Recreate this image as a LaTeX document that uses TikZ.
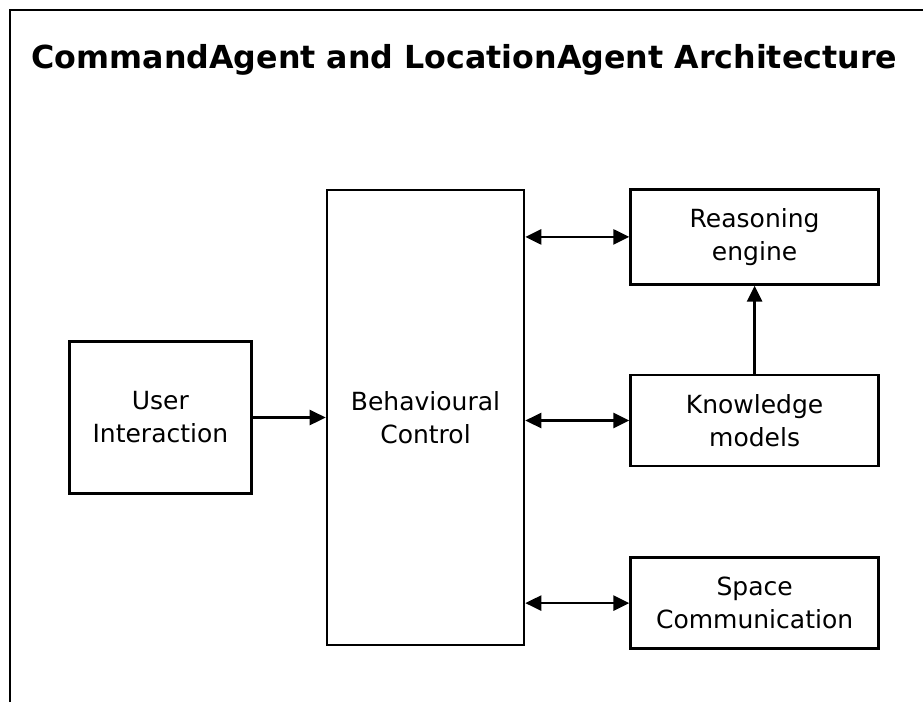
\documentclass[tikz,border=0pt]{standalone}
\usepackage{fontspec}
\setmainfont{DejaVu Sans}
\usetikzlibrary{positioning, arrows.meta}

\begin{document}
\begin{tikzpicture}[x=1pt,y=1pt,
    block/.style={shape=rectangle,draw,line width=2.6pt,align=center,inner sep=0pt,font=\fontsize{25}{33}\selectfont},
    link/.style={line width=2.6pt},
    tip/.style={-{Triangle[length=16pt,width=15pt]}},
    twotips/.style={{Triangle[length=16pt,width=15pt]}-{Triangle[length=16pt,width=15pt]}},]
    \useasboundingbox (0,0) rectangle (923,-702);
    % frame, only its left and top edges are in the picture
    \draw[line width=2.8pt] (10,-702) -- (10,-10) -- (923,-10);
    \node[anchor=base west,font=\fontsize{31.7}{38}\selectfont\bfseries] (title) at (28,-68) {CommandAgent and LocationAgent Architecture};
    % create the nodes
    \node[block,minimum width=197pt,minimum height=455pt] (behav) at (425.5,-417.5) {Behavioural\\Control};
    \node[block,minimum width=182pt,minimum height=152pt] (user)[left =73pt of behav] {User\\Interaction};
    \node[block,minimum width=248pt,minimum height=91pt] (knowl)[right =104pt of behav,yshift=-3pt] {Knowledge\\models};
    \node[block,minimum width=248pt,minimum height=95pt] (reason)[above =88pt of knowl] {Reasoning\\engine};
    \node[block,minimum width=248pt,minimum height=91pt] (space)[below =89pt of knowl] {Space\\Communication};
    % connect them
    \draw[link,tip] (user.east) -- (user.east -| behav.west);
    \draw[link,twotips] (behav.east |- reason.west) -- (reason.west);
    \draw[link,twotips] (behav.east |- knowl.west) -- (knowl.west);
    \draw[link,twotips] (behav.east |- space.west) -- (space.west);
    \draw[link,tip] (knowl.north) -- (reason.south);
\end{tikzpicture}
\end{document}
